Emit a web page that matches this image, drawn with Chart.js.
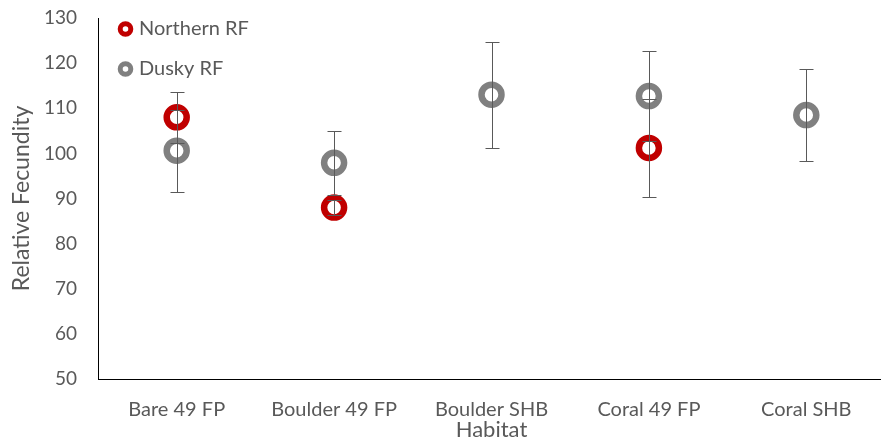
<!DOCTYPE html>
<html>
<head>
<meta charset="utf-8">
<script src="https://cdn.jsdelivr.net/npm/chart.js@4/dist/chart.umd.min.js"></script>
<style>
  html, body { margin: 0; padding: 0; background: #fff; overflow: hidden; }
  #wrap { position: relative; width: 885px; height: 443px; }
</style>
</head>
<body>
<div id="wrap"><canvas id="c" width="885" height="443"></canvas></div>
<script>
const categories = ['Bare 49 FP', 'Boulder 49 FP', 'Boulder SHB', 'Coral 49 FP', 'Coral SHB'];
const seriesNames = ['Northern RF', 'Dusky RF'];
const northern = [108, 88, null, 101.2, null];
const northernErr = [5.7, 1.7, null, 10.9, null];
const dusky = [100.6, 97.9, 113, 112.7, 108.5];
const duskyErr = [9.1, 7.1, 11.7, 10, 10.3];
const yTicks = [50, 60, 70, 80, 90, 100, 110, 120, 130];

const RED = '#C00000';
const GRAY = '#808080';
const FONT = 'Lato, "Liberation Sans", sans-serif';

const errorBars = {
  id: 'errorBars',
  afterDatasetsDraw(chart) {
    const ctx = chart.ctx;
    const x = chart.scales.x, y = chart.scales.y;
    const sets = [[dusky, duskyErr], [northern, northernErr]];
    ctx.save();
    ctx.strokeStyle = '#595959';
    ctx.lineWidth = 1;
    sets.forEach(([vals, errs]) => {
      vals.forEach((v, i) => {
        if (v == null || errs[i] == null) return;
        const px = Math.round(x.getPixelForValue(i)) + 0.5;
        const yTop = Math.round(y.getPixelForValue(v + errs[i])) + 0.5;
        const yBot = Math.round(y.getPixelForValue(v - errs[i])) + 0.5;
        ctx.beginPath();
        ctx.moveTo(px, yTop); ctx.lineTo(px, yBot);
        ctx.moveTo(px - 7, yTop); ctx.lineTo(px + 7, yTop);
        ctx.moveTo(px - 7, yBot); ctx.lineTo(px + 7, yBot);
        ctx.stroke();
      });
    });
    ctx.restore();
  }
};

const innerLegend = {
  id: 'innerLegend',
  afterDraw(chart) {
    const ctx = chart.ctx;
    const items = [[seriesNames[0], RED, 29], [seriesNames[1], GRAY, 69]];
    ctx.save();
    items.forEach(([label, color, cy]) => {
      ctx.beginPath();
      ctx.arc(125.5, cy, 5.3, 0, Math.PI * 2);
      ctx.lineWidth = 5;
      ctx.strokeStyle = color;
      ctx.stroke();
      ctx.fillStyle = '#595959';
      ctx.font = '20px ' + FONT;
      ctx.textBaseline = 'middle';
      ctx.textAlign = 'left';
      ctx.fillText(label, 139, cy);
    });
    ctx.restore();
  }
};

new Chart(document.getElementById('c'), {
  type: 'line',
  data: {
    labels: categories,
    datasets: [
      {
        label: seriesNames[1],
        data: dusky,
        showLine: false,
        pointStyle: 'circle',
        pointRadius: 10,
        pointHoverRadius: 10,
        pointBorderWidth: 6.5,
        pointBorderColor: GRAY,
        pointBackgroundColor: 'rgba(0,0,0,0)',
        borderColor: GRAY
      },
      {
        label: seriesNames[0],
        data: northern,
        showLine: false,
        pointStyle: 'circle',
        pointRadius: 10,
        pointHoverRadius: 10,
        pointBorderWidth: 6.5,
        pointBorderColor: RED,
        pointBackgroundColor: 'rgba(0,0,0,0)',
        borderColor: RED
      }
    ]
  },
  options: {
    responsive: false,
    animation: false,
    layout: { autoPadding: false, padding: { top: 18, right: 0, bottom: 0, left: 0 } },
    plugins: {
      legend: { display: false },
      tooltip: { enabled: false }
    },
    scales: {
      x: {
        type: 'category',
        offset: true,
        grid: { display: false, drawTicks: false },
        border: { display: true, color: '#000', width: 1 },
        ticks: { color: '#595959', font: { family: FONT, size: 20 }, padding: 19, maxRotation: 0, autoSkip: false },
        title: { display: true, text: 'Habitat', color: '#595959', font: { family: FONT, size: 22 }, padding: { top: 0, bottom: 0 } },
        afterFit(scale) { scale.height = 64; scale.paddingLeft = 0; scale.paddingRight = 0; }
      },
      y: {
        min: 50,
        max: 130,
        grid: { display: false, drawTicks: false },
        border: { display: true, color: '#000', width: 1 },
        afterBuildTicks(scale) { scale.ticks = yTicks.map(v => ({ value: v })); },
        ticks: { color: '#595959', font: { family: FONT, size: 19 }, padding: 21 },
        title: { display: true, text: 'Relative Fecundity', color: '#595959', font: { family: FONT, size: 23 }, padding: { top: 8, bottom: 0 } },
        afterFit(scale) { scale.width = 98; scale.paddingTop = 0; scale.paddingBottom = 0; }
      }
    }
  },
  plugins: [errorBars, innerLegend]
});
</script>
</body>
</html>
